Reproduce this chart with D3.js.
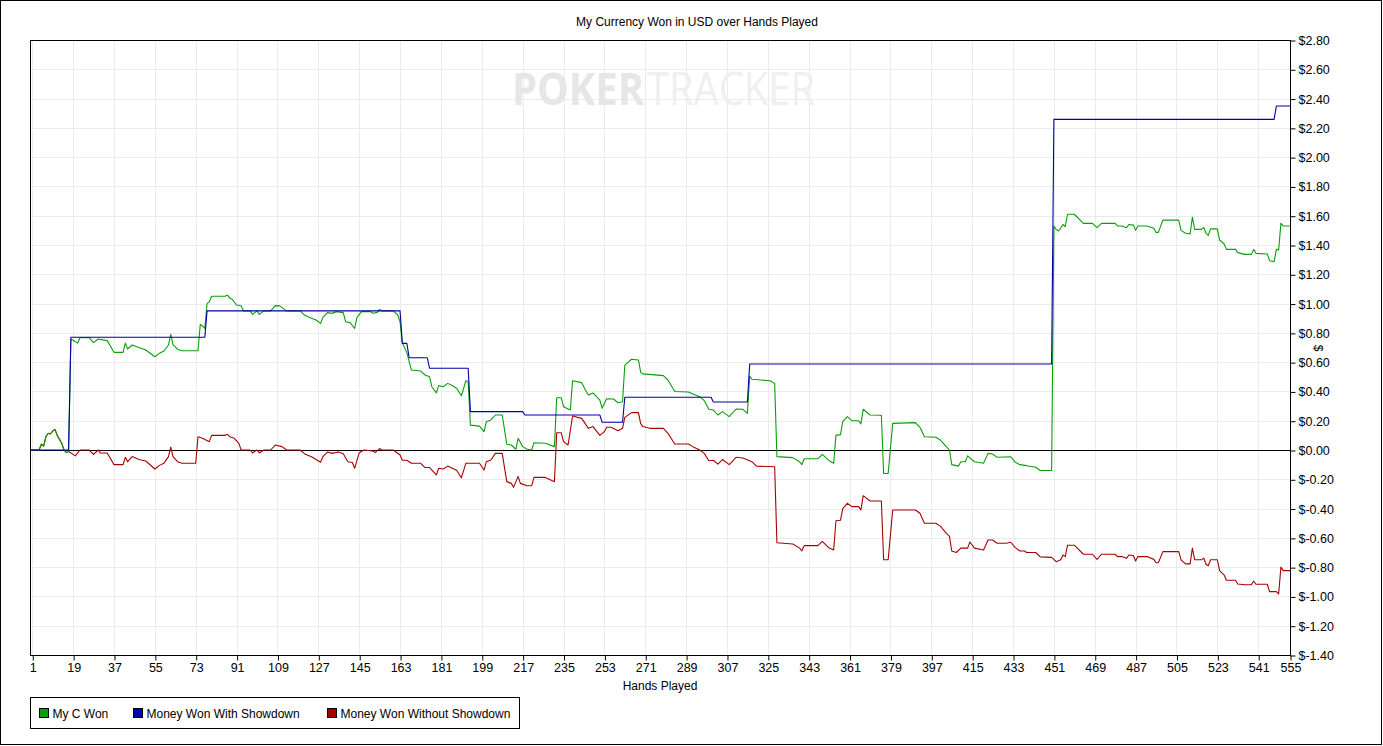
<!DOCTYPE html>
<html>
<head>
<meta charset="utf-8">
<script src="https://cdn.jsdelivr.net/npm/d3@7"></script>
<style>
  body { margin: 0; background: #fff; }
  svg { display: block; font-family: "Liberation Sans", Arial, sans-serif; }
  .axis text { font-size: 12.5px; fill: #000; }
  .axis line { stroke: #000; }
  .axis path { display: none; }
</style>
</head>
<body>
<svg width="1383" height="746"></svg>
<script>
// hands at which the x axis is labelled
const handTicks = [1, 19, 37, 55, 73, 91, 109, 127, 145, 163, 181, 199, 217, 235, 253, 271, 289, 307, 325, 343, 361, 379, 397, 415, 433, 451, 469, 487, 505, 523, 541, 555];
const dollarTicks = [-1.4, -1.2, -1.0, -0.8, -0.6, -0.4, -0.2, 0, 0.2, 0.4, 0.6, 0.8, 1.0, 1.2, 1.4, 1.6, 1.8, 2.0, 2.2, 2.4, 2.6, 2.8];

// [hand, dollars]
const myCWon = [[0,0],[4,0],[5,0.04],[6,0.027],[7,0.09],[8,0.114],[9,0.11],[10,0.13],[11,0.14],[12,0.10],[14,0.045],[15,0],[16,-0.018],[17,-0.01],
  [18,0.756],[19,0.75],[21,0.73],[22,0.767],[26,0.767],[28,0.733],[30,0.758],[34,0.747],[37,0.667],[41,0.667],[42,0.73],[43,0.69],[45,0.717],[48,0.70],[51,0.683],[55,0.637],[57,0.66],[59,0.676],[61,0.717],[62,0.79],[63,0.72],[65,0.687],[67,0.678],[74,0.678],[75,0.858],[76,0.847],[77,0.83],[78,1.0],[79,1.013],[80,1.05],[86,1.05],[87,1.058],[88,1.036],[89,1.03],[91,0.99],[93,0.985],[94,0.95],[97,0.95],[98,0.926],[100,0.95],[101,0.926],[103,0.95],[106,0.95],[108,0.986],[110,0.984],[113,0.95],[119,0.95],[121,0.92],[124,0.90],[126,0.888],[128,0.865],[129,0.906],[131,0.938],[133,0.933],[135,0.945],[138,0.938],[139,0.876],[141,0.87],[143,0.83],[144,0.904],[146,0.945],[150,0.945],[151,0.934],[153,0.94],[154,0.96],[155,0.95],[160,0.95],[162,0.922],[163,0.876],[164,0.73],[166,0.665],[168,0.546],[172,0.54],[174,0.512],[176,0.50],[177,0.432],[179,0.39],[180,0.44],[182,0.432],[184,0.455],[186,0.44],[188,0.42],[190,0.37],[192,0.473],[193,0.468],[194,0.17],[198,0.163],[200,0.125],[201,0.193],[203,0.205],[205,0.239],[208,0.239],[210,0.039],[212,0.034],[214,0.005],[215,0.08],[217,0.023],[219,0.005],[221,0],[222,0.05],[227,0.046],[231,0.023],[232,0.357],[234,0.357],[235,0.296],[238,0.273],[239,0.473],[243,0.46],[245,0.40],[246,0.376],[248,0.39],[251,0.34],[252,0.285],[254,0.35],[257,0.348],[259,0.323],[261,0.33],[262,0.58],[265,0.62],[268,0.615],[269,0.53],[270,0.52],[279,0.508],[281,0.478],[284,0.40],[290,0.396],[292,0.382],[295,0.364],[297,0.337],[299,0.278],[301,0.273],[303,0.239],[305,0.262],[308,0.228],[311,0.28],[314,0.278],[316,0.25],[317,0.505],[318,0.483],[326,0.473],[328,0.455],[329,-0.045],[336,-0.052],[339,-0.08],[340,-0.10],[341,-0.06],[347,-0.06],[349,-0.03],[352,-0.073],[354,-0.09],[355,0.10],[357,0.105],[358,0.193],[360,0.228],[362,0.20],[365,0.20],[366,0.178],[367,0.278],[370,0.239],[375,0.237],[376,-0.16],[378,-0.16],[380,0.182],[390,0.187],[392,0.155],[394,0.09],[399,0.087],[401,0.068],[403,0.034],[405,0],[406,-0.10],[409,-0.11],[410,-0.08],[412,-0.08],[413,-0.04],[416,-0.08],[420,-0.09],[422,-0.023],[424,-0.027],[426,-0.05],[432,-0.046],[434,-0.084],[436,-0.10],[439,-0.107],[443,-0.118],[445,-0.14],[450,-0.14],
  [451,1.53],[452,1.507],[453,1.496],[454,1.514],[455,1.54],[456,1.525],[457,1.61],[460,1.61],[464,1.548],[468,1.548],[470,1.518],[472,1.548],[478,1.548],[479,1.53],[481,1.53],[483,1.518],[484,1.54],[486,1.536],[487,1.50],[488,1.53],[492,1.53],[495,1.514],[496,1.486],[497,1.486],[499,1.57],[506,1.57],[507,1.50],[509,1.48],[511,1.475],[512,1.59],[513,1.507],[516,1.507],[517,1.52],[518,1.48],[519,1.466],[520,1.51],[523,1.51],[524,1.434],[526,1.407],[527,1.37],[531,1.37],[532,1.348],[535,1.336],[538,1.336],[539,1.37],[540,1.343],[545,1.339],[546,1.293],[548,1.286],[549,1.37],[550,1.366],[551,1.548],[552,1.53],[555,1.53]];

const wonWithShowdown = [[0,0],[17,0],[18,0.77],[77,0.77],[78,0.95],[163,0.95],[164,0.728],[166,0.728],[167,0.63],[175,0.63],[176,0.558],[193,0.558],[194,0.262],[217,0.262],[218,0.239],[251,0.239],[252,0.19],[261,0.19],[262,0.36],[300,0.36],[301,0.328],[316,0.328],[317,0.587],[450,0.587],[451,2.258],[548,2.258],[549,2.349],[555,2.349]];

const wonWithoutShowdown = [[0,0],[4,0],[5,0.04],[6,0.027],[7,0.09],[8,0.114],[9,0.11],[10,0.13],[11,0.14],[12,0.10],[14,0.045],[15,0],[16,-0.018],[17,-0.01],
  [20,-0.04],[22,0],[26,0],[28,-0.03],[30,0],[31,-0.02],[34,-0.02],[37,-0.10],[41,-0.10],[42,-0.05],[43,-0.08],[45,-0.045],[48,-0.065],[51,-0.075],[55,-0.13],[57,-0.105],[59,-0.09],[61,-0.045],[62,0.02],[63,-0.045],[65,-0.08],[67,-0.09],[73,-0.09],[74,0.09],[76,0.08],[79,0.057],[80,0.10],[86,0.10],[87,0.107],[88,0.09],[90,0.08],[92,0.045],[93,0],[97,0],[98,-0.02],[100,0],[101,-0.02],[103,0],[106,0],[108,0.034],[111,0.023],[113,0],[119,0],[121,-0.027],[124,-0.046],[128,-0.084],[129,-0.045],[131,-0.014],[133,-0.023],[136,-0.014],[138,-0.025],[140,-0.08],[142,-0.085],[143,-0.125],[145,-0.02],[147,0],[151,-0.007],[152,-0.018],[154,0.01],[155,0],[160,0],[163,-0.034],[164,-0.07],[166,-0.07],[168,-0.09],[172,-0.09],[174,-0.12],[176,-0.12],[179,-0.17],[180,-0.125],[182,-0.13],[184,-0.11],[186,-0.125],[188,-0.14],[190,-0.19],[192,-0.09],[198,-0.09],[200,-0.137],[201,-0.08],[203,-0.068],[205,-0.023],[208,-0.023],[210,-0.216],[212,-0.228],[213,-0.255],[215,-0.18],[216,-0.228],[219,-0.244],[221,-0.244],[222,-0.187],[227,-0.187],[231,-0.216],[232,0.118],[234,0.118],[235,0.057],[237,0.034],[239,0.232],[243,0.216],[245,0.17],[246,0.148],[248,0.16],[251,0.10],[253,0.125],[254,0.155],[256,0.155],[259,0.132],[261,0.148],[262,0.223],[265,0.255],[268,0.255],[269,0.18],[270,0.16],[273,0.148],[279,0.148],[281,0.114],[284,0.041],[290,0.041],[292,0.023],[295,0],[297,-0.023],[299,-0.073],[301,-0.07],[303,-0.096],[305,-0.065],[308,-0.10],[311,-0.05],[314,-0.055],[318,-0.08],[320,-0.11],[328,-0.114],[329,-0.633],[336,-0.642],[339,-0.67],[340,-0.69],[341,-0.653],[347,-0.653],[349,-0.624],[352,-0.67],[354,-0.683],[355,-0.483],[357,-0.48],[358,-0.40],[360,-0.364],[362,-0.387],[365,-0.387],[366,-0.41],[367,-0.312],[370,-0.348],[375,-0.348],[376,-0.75],[378,-0.75],[380,-0.41],[390,-0.41],[392,-0.432],[394,-0.50],[399,-0.50],[401,-0.52],[403,-0.558],[405,-0.59],[406,-0.69],[408,-0.70],[410,-0.67],[413,-0.67],[414,-0.628],[416,-0.67],[420,-0.683],[422,-0.615],[424,-0.615],[426,-0.637],[430,-0.637],[432,-0.63],[434,-0.667],[436,-0.69],[438,-0.69],[439,-0.70],[443,-0.70],[445,-0.73],[450,-0.733],[452,-0.763],[454,-0.75],[455,-0.717],[456,-0.728],[457,-0.65],[460,-0.65],[464,-0.712],[468,-0.712],[470,-0.747],[472,-0.712],[478,-0.712],[479,-0.728],[481,-0.728],[483,-0.74],[484,-0.717],[486,-0.72],[487,-0.758],[488,-0.728],[492,-0.728],[495,-0.747],[496,-0.77],[497,-0.77],[499,-0.694],[506,-0.694],[507,-0.75],[509,-0.778],[511,-0.778],[512,-0.67],[513,-0.75],[516,-0.75],[517,-0.738],[518,-0.78],[519,-0.79],[520,-0.75],[523,-0.75],[524,-0.824],[526,-0.854],[527,-0.89],[531,-0.89],[532,-0.915],[535,-0.92],[538,-0.92],[539,-0.895],[540,-0.917],[545,-0.917],[546,-0.967],[549,-0.967],[550,-0.983],[551,-0.80],[552,-0.824],[555,-0.824]];

const seriesNames = ['My C Won', 'Money Won With Showdown', 'Money Won Without Showdown'];
const seriesColors = ['#0a9e0a', '#0000a8', '#a80000'];

const svg = d3.select('svg');
const plotLeft = 30, plotRight = 1290, plotTop = 40, plotBottom = 655;

const x = d3.scaleLinear().domain([0, 555]).range([plotLeft, plotRight]);
const y = d3.scaleLinear().domain([-1.4, 2.8]).range([plotBottom, plotTop]);

// outer frame
svg.append('rect').attr('x', 0.5).attr('y', 0.5).attr('width', 1381).attr('height', 744)
  .attr('fill', '#fff').attr('stroke', '#000');

svg.append('text').attr('x', 697).attr('y', 26).attr('text-anchor', 'middle')
  .style('font-size', '12px').text('My Currency Won in USD over Hands Played');

// grid
const grid = svg.append('g').attr('stroke', '#ebebeb').attr('stroke-width', 1);
grid.selectAll('.vx').data(handTicks).join('line')
  .attr('x1', d => Math.round(x(d)) + 0.5).attr('x2', d => Math.round(x(d)) + 0.5)
  .attr('y1', plotTop).attr('y2', plotBottom);
grid.selectAll('.hy').data(dollarTicks).join('line')
  .attr('y1', d => Math.round(y(d)) + 0.5).attr('y2', d => Math.round(y(d)) + 0.5)
  .attr('x1', plotLeft).attr('x2', plotRight);

// watermark, two words side by side
const wmFont = '"Open Sans", "Liberation Sans", sans-serif';
svg.append('text').attr('x', 512).attr('y', 105).attr('textLength', 132).attr('lengthAdjust', 'spacingAndGlyphs')
  .style('font-size', '45px').style('font-family', wmFont).attr('font-weight', 'bold')
  .attr('fill', '#e6e6e6').text('POKER');
svg.append('text').attr('x', 647).attr('y', 105).attr('textLength', 168).attr('lengthAdjust', 'spacingAndGlyphs')
  .style('font-size', '45px').style('font-family', wmFont)
  .attr('fill', '#efefef').text('TRACKER');

// zero line
svg.append('line').attr('x1', plotLeft).attr('x2', plotRight)
  .attr('y1', Math.round(y(0)) + 0.5).attr('y2', Math.round(y(0)) + 0.5)
  .attr('stroke', '#000');

// series
svg.append('clipPath').attr('id', 'plot').append('rect')
  .attr('x', plotLeft).attr('y', plotTop).attr('width', plotRight - plotLeft).attr('height', plotBottom - plotTop);
const line = d3.line().x(d => x(d[0])).y(d => y(d[1]));
const plotG = svg.append('g').attr('clip-path', 'url(#plot)');
[[wonWithoutShowdown, 2], [myCWon, 0], [wonWithShowdown, 1]].forEach(([data, i]) => {
  plotG.append('path').datum(data).attr('d', line)
    .attr('fill', 'none').attr('stroke', seriesColors[i]).attr('stroke-width', 1.1)
    .attr('stroke-linejoin', 'round');
});

// plot border
svg.append('rect').attr('x', plotLeft + 0.5).attr('y', plotTop + 0.5)
  .attr('width', plotRight - plotLeft).attr('height', plotBottom - plotTop)
  .attr('fill', 'none').attr('stroke', '#000');

// axes
const fmt = v => {
  const r = Math.round(v * 100) / 100;
  return '$' + (r < 0 ? '-' : '') + Math.abs(r).toFixed(2);
};
svg.append('g').attr('class', 'axis').attr('transform', `translate(${plotRight + 0.5},0.5)`)
  .call(d3.axisRight(y).tickValues(dollarTicks).tickFormat(fmt).tickSize(5).tickPadding(3));
svg.append('g').attr('class', 'axis').attr('transform', `translate(0.5,${plotBottom + 0.5})`)
  .call(d3.axisBottom(x).tickValues(handTicks).tickFormat(d3.format('d')).tickSize(5).tickPadding(3));

svg.append('text').attr('x', 660).attr('y', 690).attr('text-anchor', 'middle')
  .style('font-size', '12px').text('Hands Played');
svg.append('text').attr('transform', 'translate(1314,348) rotate(90)').attr('text-anchor', 'middle')
  .style('font-size', '12px').text('$');

// legend
const lg = svg.append('g').attr('transform', 'translate(30.5,697.5)');
lg.append('rect').attr('width', 489).attr('height', 31).attr('fill', '#fff').attr('stroke', '#000');
const legendX = [9, 103, 297];
seriesNames.forEach((name, i) => {
  const g = lg.append('g').attr('transform', `translate(${legendX[i]},11)`);
  g.append('rect').attr('width', 9).attr('height', 9).attr('fill', seriesColors[i]).attr('stroke', '#000');
  g.append('text').attr('x', 13).attr('y', 9).style('font-size', '12px').text(name);
});
</script>
</body>
</html>
